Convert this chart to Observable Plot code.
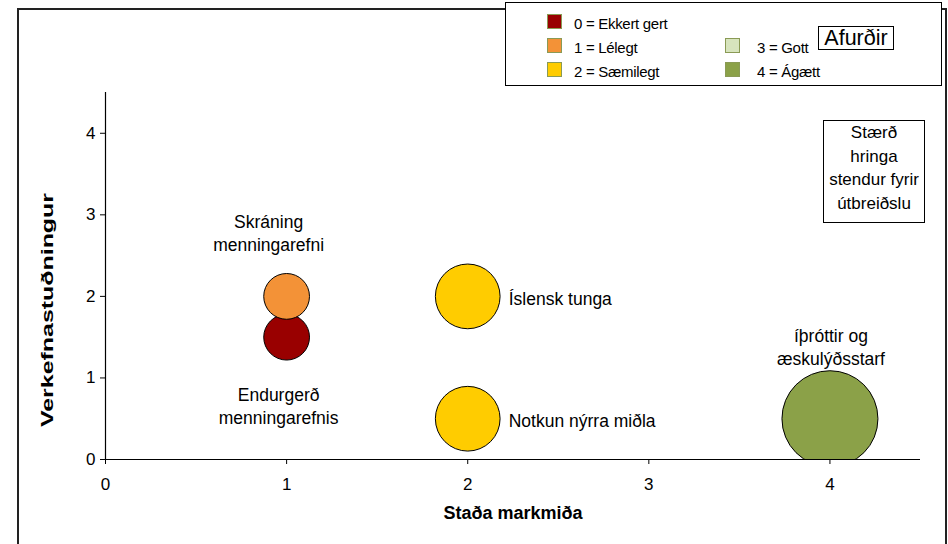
<!DOCTYPE html>
<html>
<head>
<meta charset="utf-8">
<script src="https://cdn.jsdelivr.net/npm/d3@7"></script>
<script src="https://cdn.jsdelivr.net/npm/@observablehq/plot@0.6"></script>
<style>
  html, body { margin: 0; padding: 0; background: white; }
  #wrap { position: relative; width: 948px; height: 544px; overflow: hidden; font-family: "Liberation Sans", Arial, sans-serif; color: #000; }
  #wrap svg { position: absolute; left: 0; top: 0; }
  .frame { position: absolute; left: 17px; top: 8px; width: 926px; height: 600px; border: 2px solid #222; pointer-events: none; }
  .legend { position: absolute; left: 505px; top: 2px; width: 435px; height: 82px; border: 1.5px solid #000; background: white; }
  .legend .sw { position: absolute; width: 13px; height: 13px; border: 1px solid #8a9a55; }
  .legend .lab { position: absolute; font-size: 15px; line-height: 16px; white-space: nowrap; letter-spacing: -0.3px; }
  .afurdir { position: absolute; left: 818px; top: 26px; width: 74px; height: 22px; border: 1px solid #000; background: white; font-size: 21.5px; line-height: 22px; text-align: center; }
  .note { position: absolute; left: 823px; top: 120px; width: 100px; height: 101px; border: 1px solid #000; background: white; font-size: 17px; line-height: 23.5px; text-align: center; box-sizing: content-box; }
</style>
</head>
<body>
<div id="wrap"></div>
<script>
// Data
const categories = ["Endurgerð\nmenningarefnis", "Skráning\nmenningarefni", "Íslensk tunga", "Notkun nýrra miðla", "íþróttir og\næskulýðsstarf"];
const stadaMarkmida = [1, 1, 2, 2, 4];          // x
const verkefnastudningur = [1.5, 2, 2, 0.5, 0.5]; // y
const utbreidsla = [1, 1, 2, 2, 4.4];            // bubble size
const einkunn = [0, 1, 2, 2, 4];                 // colour rating

const ratingValues = [0, 1, 2, 3, 4];
const ratingLabels = ["0 = Ekkert gert", "1 = Lélegt", "2 = Sæmilegt", "3 = Gott", "4 = Ágætt"];
const ratingColors = ["#990000", "#F39237", "#FFCC00", "#D7E4BD", "#8BA148"];

const xTicks = [0, 1, 2, 3, 4];
const yTicks = [0, 1, 2, 3, 4];
const xTitle = "Staða markmiða";
const yTitle = "Verkefnastuðningur";
const boxTitle = "Afurðir";
const noteText = ["Stærð", "hringa", "stendur fyrir", "útbreiðslu"];

const data = categories.map((c, i) => ({
  name: c, x: stadaMarkmida[i], y: verkefnastudningur[i], size: utbreidsla[i], rating: einkunn[i]
}));

// label styling (offsets from their bubble)
const labelStyle = [
  {textAnchor: "middle", dx: -8, dy: 68},
  {textAnchor: "middle", dx: -18, dy: -64},
  {textAnchor: "start", dx: 41, dy: 1},
  {textAnchor: "start", dx: 41, dy: 1},
  {textAnchor: "middle", dx: 1, dy: -73}
];

const chart = Plot.plot({
  width: 948,
  height: 544,
  marginLeft: 105,
  marginRight: 28,
  marginTop: 92,
  marginBottom: 85,
  style: {fontFamily: "'Liberation Sans', Arial, sans-serif", fontSize: "16px", color: "#000", background: "white", overflow: "visible"},
  x: {domain: [0, 4.5], label: null},
  y: {domain: [0, 4.5], label: null},
  r: {domain: [0, 4.4], range: [0, 48]},
  color: {type: "ordinal", domain: ratingValues, range: ratingColors},
  marks: [
    Plot.dot(data, {x: "x", y: "y", r: "size", fill: "rating", stroke: "#000", strokeWidth: 1, fillOpacity: 1, clip: "frame"}),
    Plot.ruleY([0], {stroke: "#000", strokeWidth: 1.2}),
    Plot.ruleX([0], {stroke: "#000", strokeWidth: 1.2}),
    Plot.axisX({ticks: xTicks, tickFormat: "d", tickSize: 5, tickPadding: 13, fontSize: 17, label: null, stroke: "#000"}),
    Plot.axisY({ticks: yTicks, tickFormat: "d", tickSize: 5, tickPadding: 5, fontSize: 17, label: null, stroke: "#000"}),
    ...data.map((d, i) => Plot.text([d], {
      x: "x", y: "y", text: "name", fontSize: 17.5, lineHeight: 1.33, fill: "#000",
      textAnchor: labelStyle[i].textAnchor, dx: labelStyle[i].dx, dy: labelStyle[i].dy
    })),
    Plot.text([xTitle], {frameAnchor: "bottom", dy: 59, fontWeight: "bold", fontSize: 18, fill: "#000"}),
    Plot.text([yTitle], {frameAnchor: "left", textAnchor: "start", dx: -58, dy: 151, rotate: -90, fontWeight: "bold", fontSize: 17, fill: "#000", className: "ytitle"})
  ]
});

const wrap = document.getElementById("wrap");
wrap.appendChild(chart);

// stretch y title like the reference
const yt = chart.querySelector(".ytitle text");
if (yt) { yt.setAttribute("textLength", 234); yt.setAttribute("lengthAdjust", "spacingAndGlyphs"); }

// Frame
const frame = document.createElement("div");
frame.className = "frame";
wrap.appendChild(frame);

// Legend
const legend = document.createElement("div");
legend.className = "legend";
const legendPos = [
  {sx: 41, sy: 11}, {sx: 41, sy: 35}, {sx: 41, sy: 59}, {sx: 219, sy: 35}, {sx: 219, sy: 59}
];
ratingLabels.forEach((lab, i) => {
  const sw = document.createElement("div");
  sw.className = "sw";
  sw.style.left = legendPos[i].sx + "px";
  sw.style.top = legendPos[i].sy + "px";
  sw.style.background = ratingColors[i];
  legend.appendChild(sw);
  const t = document.createElement("div");
  t.className = "lab";
  t.textContent = lab;
  t.style.left = (legendPos[i].sx + 27 + (i >= 3 ? 5 : 0)) + "px";
  t.style.top = (legendPos[i].sy + 2) + "px";
  legend.appendChild(t);
});
wrap.appendChild(legend);

const af = document.createElement("div");
af.className = "afurdir";
af.textContent = boxTitle;
wrap.appendChild(af);

const note = document.createElement("div");
note.className = "note";
note.innerHTML = noteText.join("<br>");
wrap.appendChild(note);
</script>
</body>
</html>
